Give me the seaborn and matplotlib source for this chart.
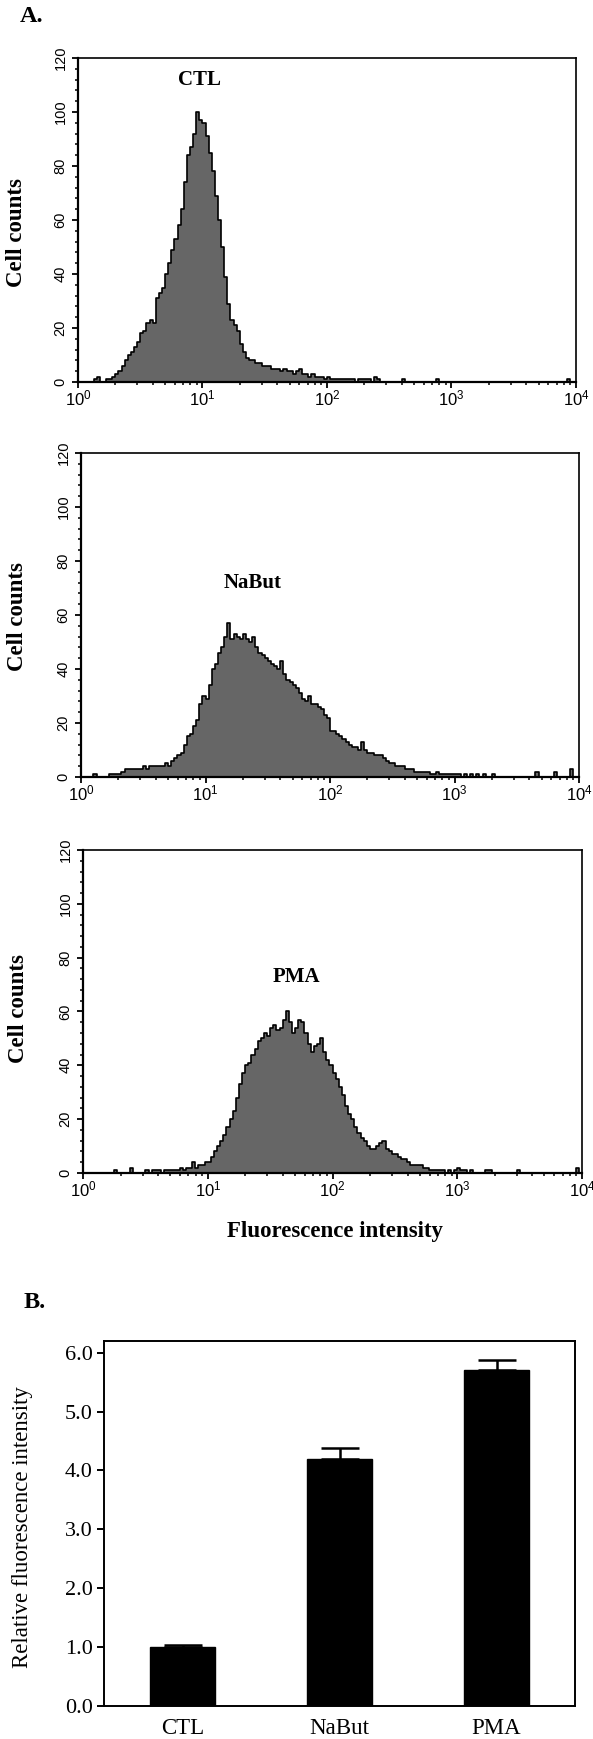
import numpy as np
import pandas as pd
import matplotlib.pyplot as plt
import matplotlib.ticker as mticker
import seaborn as sns

# flow cytometry histograms, counts per 1/40-decade bin from 10^0 to 10^4
ctl_counts = [0, 0, 0, 0, 0, 1, 2, 0, 0, 1, 1, 2, 3, 4, 6, 8,
              10, 11, 13, 15, 18, 19, 22, 23, 22, 31, 33, 35, 40, 44, 49, 53,
              58, 64, 74, 84, 87, 92, 100, 97, 96, 91, 85, 78, 69, 60, 50, 39,
              29, 23, 21, 19, 14, 11, 9, 8, 8, 7, 7, 6, 6, 6, 5, 5,
              5, 4, 5, 4, 4, 3, 4, 5, 3, 3, 2, 3, 2, 2, 2, 1,
              2, 1, 1, 1, 1, 1, 1, 1, 1, 0, 1, 1, 1, 1, 0, 2,
              1, 0, 0, 0, 0, 0, 0, 0, 1, 0, 0, 0, 0, 0, 0, 0,
              0, 0, 0, 1, 0, 0, 0, 0, 0, 0, 0, 0, 0, 0, 0, 0,
              0, 0, 0, 0, 0, 0, 0, 0, 0, 0, 0, 0, 0, 0, 0, 0,
              0, 0, 0, 0, 0, 0, 0, 0, 0, 0, 0, 0, 0, 1, 0, 0]

nabut_counts = [0, 0, 0, 0, 1, 0, 0, 0, 0, 1, 1, 1, 1, 2, 3, 3,
                3, 3, 3, 3, 4, 3, 4, 4, 4, 4, 4, 5, 4, 6, 7, 8,
                9, 12, 15, 16, 19, 21, 27, 30, 29, 34, 40, 42, 46, 48, 52, 57,
                51, 53, 52, 51, 53, 51, 50, 52, 48, 46, 45, 44, 43, 42, 41, 40,
                43, 38, 36, 35, 34, 33, 31, 29, 28, 30, 27, 27, 26, 25, 23, 22,
                17, 17, 16, 15, 14, 13, 12, 11, 11, 10, 13, 10, 9, 9, 8, 8,
                8, 7, 6, 5, 5, 4, 4, 4, 3, 3, 3, 2, 2, 2, 2, 2,
                1, 1, 2, 1, 1, 1, 1, 1, 1, 1, 0, 1, 0, 1, 0, 1,
                0, 1, 0, 0, 1, 0, 0, 0, 0, 0, 0, 0, 0, 0, 0, 0,
                0, 0, 2, 0, 0, 0, 0, 0, 2, 0, 0, 0, 0, 3, 0, 0]

pma_counts = [0, 0, 0, 0, 0, 0, 0, 0, 0, 0, 1, 0, 0, 0, 0, 2,
              0, 0, 0, 0, 1, 0, 1, 1, 1, 0, 1, 1, 1, 1, 1, 2,
              1, 2, 2, 4, 2, 3, 3, 4, 4, 6, 8, 10, 12, 14, 17, 20,
              23, 28, 33, 37, 40, 41, 44, 46, 49, 50, 52, 51, 54, 55, 53, 54,
              57, 60, 56, 52, 54, 57, 56, 52, 48, 45, 47, 48, 50, 45, 42, 40,
              37, 35, 32, 29, 25, 22, 20, 17, 15, 13, 12, 10, 9, 9, 10, 11,
              12, 9, 8, 7, 7, 6, 5, 5, 4, 3, 3, 3, 3, 2, 2, 1,
              1, 1, 1, 1, 0, 1, 0, 1, 2, 1, 1, 0, 1, 0, 0, 0,
              0, 1, 1, 0, 0, 0, 0, 0, 0, 0, 0, 1, 0, 0, 0, 0,
              0, 0, 0, 0, 0, 0, 0, 0, 0, 0, 0, 0, 0, 0, 2, 0]

hist_names = ['CTL', 'NaBut', 'PMA']
hist_label_pos = [(9.5, 112), (24, 72), (51, 73)]

# bar chart (panel B)
bar_cats = ['CTL', 'NaBut', 'PMA']
bar_vals = [1.0, 4.2, 5.7]
bar_errs = [0.03, 0.18, 0.18]

n_bins = 160
centers = 10 ** ((np.arange(n_bins) + 0.5) * 4 / n_bins)

sns.set_style('ticks')
plt.rcParams['font.family'] = ['Liberation Serif', 'DejaVu Serif']
plt.rcParams['mathtext.fontset'] = 'custom'
plt.rcParams['mathtext.rm'] = 'Liberation Sans'
plt.rcParams['mathtext.it'] = 'Liberation Sans'
plt.rcParams['text.color'] = 'black'
plt.rcParams['axes.labelcolor'] = 'black'
plt.rcParams['xtick.color'] = 'black'
plt.rcParams['ytick.color'] = 'black'
plt.rcParams['axes.edgecolor'] = 'black'

fig = plt.figure(figsize=(5.93, 17.39), dpi=100)

hist_boxes = [[0.1315, 0.7803, 0.8398, 0.1863],
              [0.1366, 0.5532, 0.8398, 0.1863],
              [0.1400, 0.3255, 0.8415, 0.1857]]
ylab_pos = [(-0.1225, 0.46), (-0.128, 0.495), (-0.13, 0.51)]

all_counts = [ctl_counts, nabut_counts, pma_counts]
for i in range(3):
    ax = fig.add_axes(hist_boxes[i])
    df = pd.DataFrame({'fl': centers, 'n': all_counts[i]})
    sns.histplot(data=df, x='fl', weights='n', bins=n_bins, binrange=(0, 4),
                 log_scale=True, element='step', fill=True,
                 facecolor='#666666', edgecolor='black', linewidth=1.2,
                 alpha=1, ax=ax)
    ax.set_xlim(1, 1e4)
    ax.set_ylim(0, 120)
    ax.set_yticks(range(0, 121, 20))
    ax.yaxis.set_minor_locator(mticker.MultipleLocator(4))
    ax.xaxis.set_major_locator(mticker.LogLocator(base=10, numticks=10))
    ax.xaxis.set_minor_locator(mticker.LogLocator(base=10, subs=np.arange(2, 10), numticks=10))
    ax.xaxis.set_major_formatter(mticker.LogFormatterMathtext())
    ax.xaxis.set_minor_formatter(mticker.NullFormatter())
    for sp in ax.spines.values():
        sp.set_visible(True)
        sp.set_linewidth(1.2)
    ax.spines['left'].set_linewidth(1.6)
    ax.spines['bottom'].set_linewidth(1.6)
    ax.tick_params(axis='both', which='major', direction='out', length=4.5,
                   width=1.3)
    ax.tick_params(axis='both', which='minor', direction='out', length=2.5,
                   width=1.1)
    ax.tick_params(axis='x', which='major', pad=0)
    ax.tick_params(axis='y', which='major', pad=3, labelrotation=90)
    for lab in ax.get_yticklabels():
        lab.set_family('Liberation Sans')
        lab.set_fontsize(10.5)
        lab.set_va('center')
    for lab in ax.get_xticklabels():
        lab.set_family('Liberation Sans')
        lab.set_fontsize(12)
    ax.set_ylabel('Cell counts', fontsize=16.5, fontweight='bold', va='center')
    ax.yaxis.set_label_coords(*ylab_pos[i])
    if i == 2:
        ax.set_xlabel('Fluorescence intensity', fontsize=16.5,
                      fontweight='bold', va='center')
        ax.xaxis.set_label_coords(0.504, -0.18)
    else:
        ax.set_xlabel('')
    tx, ty = hist_label_pos[i]
    ax.text(tx, ty, hist_names[i], ha='center', va='center', fontsize=15,
            fontweight='bold')

# panel B
axb = fig.add_axes([0.1754, 0.0190, 0.7943, 0.2099])
sns.barplot(x=bar_cats, y=bar_vals, color='black', width=0.41,
            saturation=1, edgecolor='black', errorbar=None, ax=axb)
axb.errorbar(x=np.arange(len(bar_cats)), y=bar_vals,
             yerr=[np.zeros(len(bar_errs)), bar_errs], fmt='none',
             ecolor='black', elinewidth=1.8, capsize=14, capthick=1.8)
axb.set_xlim(-0.5, 2.5)
axb.set_ylim(0, 6.2)
axb.set_yticks(np.arange(0, 6.1, 1.0))
axb.yaxis.set_major_formatter(mticker.FormatStrFormatter('%.1f'))
for sp in axb.spines.values():
    sp.set_visible(True)
    sp.set_linewidth(1.4)
axb.tick_params(axis='y', direction='out', length=5, width=1.4, pad=3,
                labelsize=16)
axb.tick_params(axis='x', length=0, pad=9, labelsize=16.5)
axb.set_ylabel('Relative fluorescence intensity', fontsize=16.5, va='center')
axb.yaxis.set_label_coords(-0.172, 0.49)

fig.text(32 / 593, 1 - 17 / 1739, 'A.', fontsize=17.5, fontweight='bold',
         ha='center', va='center')
fig.text(35 / 593, 1 - 1303 / 1739, 'B.', fontsize=17.5, fontweight='bold',
         ha='center', va='center')

fig.savefig('out.png', dpi=100)
